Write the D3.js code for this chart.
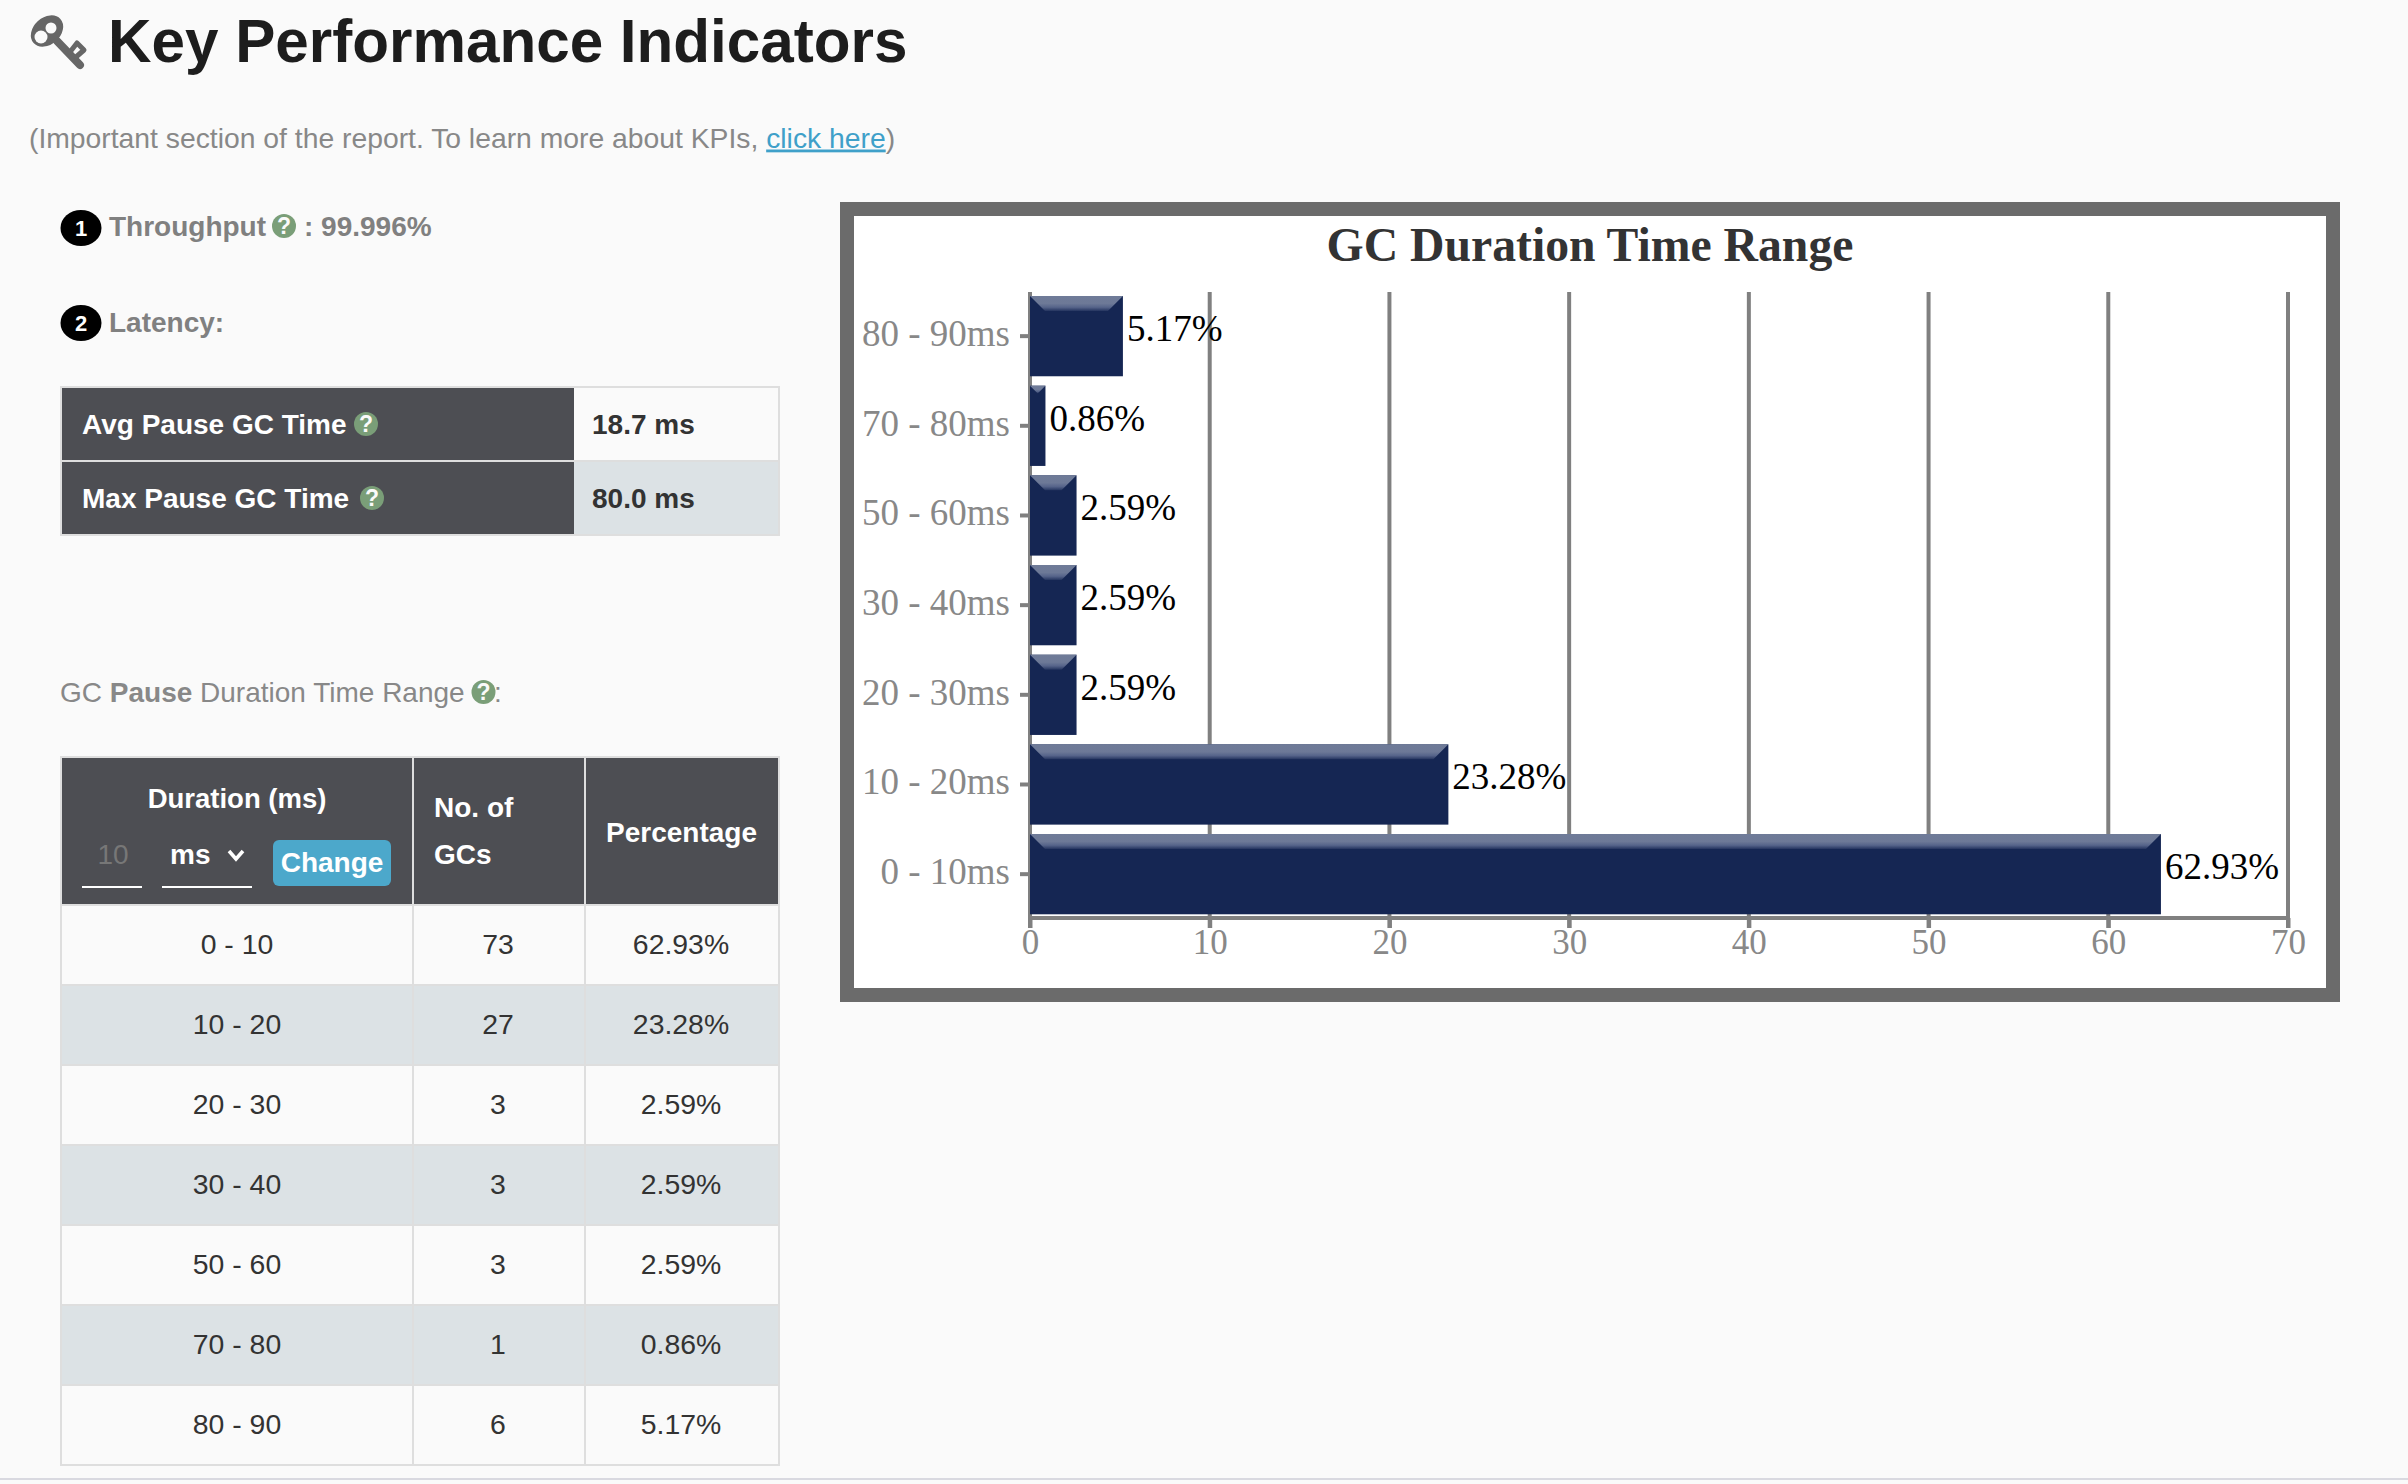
<!DOCTYPE html>
<html><head><meta charset="utf-8">
<script src="https://cdn.jsdelivr.net/npm/d3@7"></script>
<style>
html,body{margin:0;padding:0;background:#fafafa;overflow:hidden}
svg{display:block}
</style></head><body>
<script>
const ranges = ["0 - 10","10 - 20","20 - 30","30 - 40","50 - 60","70 - 80","80 - 90"];
const gcCounts = [73,27,3,3,3,1,6];
const percentages = [62.93,23.28,2.59,2.59,2.59,0.86,5.17];
const xTicks = [0,10,20,30,40,50,60,70];
const latencyLabels = ["Avg Pause GC Time","Max Pause GC Time"];
const latencyValues = ["18.7 ms","80.0 ms"];

const sans = "'Liberation Sans',Arial,sans-serif";
const serif = "'Liberation Serif',serif";
const svg = d3.select("body").append("svg").attr("width",2408).attr("height",1484);
svg.append("rect").attr("width",2408).attr("height",1484).attr("fill","#fafafa");

function T(x,y,s,o={}){
  return svg.append("text").attr("x",x).attr("y",y).text(s)
    .attr("font-family",o.family||sans).attr("font-size",o.size||28)
    .attr("font-weight",o.weight||"normal").attr("fill",o.fill||"#333")
    .attr("text-anchor",o.anchor||"start");
}
function help(cx,cy){
  svg.append("ellipse").attr("cx",cx).attr("cy",cy).attr("rx",12).attr("ry",12).attr("fill","#7a9e78");
  T(cx,cy+8,"?",{size:23,weight:"bold",fill:"#fafafa",anchor:"middle"});
}
function badge(cy,s){
  svg.append("ellipse").attr("cx",81).attr("cy",cy).attr("rx",20.5).attr("ry",18).attr("fill","#000");
  T(81,cy+8,s,{size:22,weight:"bold",fill:"#fff",anchor:"middle"});
}

// Key icon
const keyColor="#666";
const key = svg.append("g").attr("fill","none").attr("stroke",keyColor).attr("stroke-linecap","round").attr("stroke-linejoin","round");
key.append("ellipse").attr("cx",47).attr("cy",31).attr("rx",18).attr("ry",13.5).attr("fill",keyColor).attr("stroke","none")
  .attr("transform","rotate(-42 47 31)");
key.append("circle").attr("cx",41).attr("cy",37).attr("r",6.5).attr("fill","#fafafa").attr("stroke","none");
key.append("circle").attr("cx",51).attr("cy",28).attr("r",5.5).attr("fill","#fafafa").attr("stroke","none");
key.append("line").attr("x1",57).attr("y1",41).attr("x2",80).attr("y2",65).attr("stroke-width",8);
key.append("path").attr("d",d3.line()([[70,52],[77,43],[84,50],[76,57]])).attr("stroke-width",5);

T(108,62,"Key Performance Indicators",{size:60.2,weight:"bold",fill:"#1d1d1d"});

const sub = T(29,147.5,"(Important section of the report. To learn more about KPIs, ",{size:28.3,fill:"#888"});
sub.append("tspan").attr("fill","#3fa0c9").attr("text-decoration","underline").text("click here");
sub.append("tspan").text(")");

badge(228,"1");
T(109,236,"Throughput",{weight:"bold",fill:"#808080"});
help(284,226);
T(304,236,": 99.996%",{weight:"bold",fill:"#808080"});
badge(323,"2");
T(109,332,"Latency:",{weight:"bold",fill:"#808080"});

// KPI table
const grid="#dedede", dark="#4d4e53", light="#fafafa", alt="#dce2e5";
svg.append("rect").attr("x",60).attr("y",386).attr("width",720).attr("height",150).attr("fill",grid);
latencyLabels.forEach((l,i)=>{
  const y=388+i*74;
  svg.append("rect").attr("x",62).attr("y",y).attr("width",512).attr("height",72).attr("fill",dark);
  svg.append("rect").attr("x",574).attr("y",y).attr("width",204).attr("height",72).attr("fill",i? alt:light);
  T(82,434+i*74,l,{size:28,weight:"bold",fill:"#fff"});
  help(i?372:366,424+i*74);
  T(592,434+i*74,latencyValues[i],{size:28,weight:"bold"});
});

// Range table heading
const h = T(60,702,"GC ",{size:28,fill:"#888"});
h.append("tspan").attr("font-weight","bold").text("Pause");
h.append("tspan").text(" Duration Time Range");
help(483.5,692);
T(494,702,":",{size:28,fill:"#888"});

// Range table
const colX=[62,414,586], colW=[350,170,192], rowH=80, rowTop=906;
const rowY = i=>rowTop+i*rowH;
svg.append("rect").attr("x",60).attr("y",756).attr("width",720).attr("height",710).attr("fill",grid);
colX.forEach((x,i)=>svg.append("rect").attr("x",x).attr("y",758).attr("width",colW[i]).attr("height",146).attr("fill",dark));
T(237,808,"Duration (ms)",{size:27.5,weight:"bold",fill:"#fff",anchor:"middle"});
T(113,864,"10",{size:28,fill:"#777",anchor:"middle"});
svg.append("rect").attr("x",82).attr("y",886).attr("width",60).attr("height",2).attr("fill","#fff");
T(170,864,"ms",{size:28,weight:"bold",fill:"#fff"});
svg.append("path").attr("d",d3.line()([[229,851],[236,859],[243,851]])).attr("fill","none").attr("stroke","#fff").attr("stroke-width",3.5);
svg.append("rect").attr("x",162).attr("y",886).attr("width",90).attr("height",2).attr("fill","#fff");
svg.append("rect").attr("x",273).attr("y",840).attr("width",118).attr("height",46).attr("rx",6).attr("fill","#4ca8cb");
T(332,872,"Change",{size:28,weight:"bold",fill:"#fff",anchor:"middle"});
T(434,817,"No. of",{size:28,weight:"bold",fill:"#fff"});
T(434,864,"GCs",{size:28,weight:"bold",fill:"#fff"});
T(606,842,"Percentage",{size:28,weight:"bold",fill:"#fff"});

ranges.forEach((r,i)=>{
  colX.forEach((x,c)=>svg.append("rect").attr("x",x).attr("y",rowY(i)).attr("width",colW[c]).attr("height",rowH-2).attr("fill",i%2?alt:light));
  const b=rowY(i)+48;
  T(237,b,r,{anchor:"middle",size:28.4});
  T(498,b,gcCounts[i],{anchor:"middle",size:28.4});
  T(681,b,percentages[i].toFixed(2)+"%",{anchor:"middle",size:28.4});
});

// page bottom rule
svg.append("rect").attr("y",1478).attr("width",2408).attr("height",2).attr("fill","#d9d9e0");

// Chart frame
svg.append("rect").attr("x",847).attr("y",209).attr("width",1486).attr("height",786)
  .attr("fill","#fff").attr("stroke","#6b6b6b").attr("stroke-width",14);
T(1590,261,"GC Duration Time Range",{family:serif,size:47.7,weight:"bold",fill:"#333",anchor:"middle"});

const defs = svg.append("defs");
const g = defs.append("linearGradient").attr("id","bevel").attr("x1",0).attr("y1",0).attr("x2",0).attr("y2",1);
[[0,"#6f7b98"],[0.5,"#6d7997"],[0.75,"#56648a"],[1,"#24345f"]].forEach(([o,c])=>g.append("stop").attr("offset",o).attr("stop-color",c));

const x = d3.scaleLinear().domain([0,70]).range([1030,2288]);
const y = d3.scaleBand().domain(ranges.slice().reverse()).range([291.3,919]).paddingInner(0.105).paddingOuter(0.0525);
const axisColor="#808080";

// Grid lines and x axis
const gridG = svg.append("g");
gridG.selectAll("line").data(xTicks).join("line")
  .attr("x1",d=>x(d)).attr("x2",d=>x(d)).attr("y1",292).attr("y2",928)
  .attr("stroke",axisColor).attr("stroke-width",4);
const xAxis = svg.append("g").attr("transform","translate(0,918)")
  .call(d3.axisBottom(x).tickValues(xTicks).tickSize(10).tickPadding(10).tickFormat(d3.format("d")));
xAxis.select(".domain").attr("stroke",axisColor).attr("stroke-width",4).attr("d",`M${x(0)},0H${x(70)}`);
xAxis.selectAll("line").attr("stroke",axisColor).attr("stroke-width",4);
xAxis.selectAll("text").attr("font-family",serif).attr("font-size",35).attr("fill","#888").attr("dy",null).attr("y",36);

const yAxis = svg.append("g").attr("transform",`translate(${x(0)},0)`)
  .call(d3.axisLeft(y).tickSize(10).tickPadding(10).tickFormat(d=>d+"ms"));
yAxis.select(".domain").remove();
yAxis.selectAll("line").attr("stroke",axisColor).attr("stroke-width",4);
yAxis.selectAll("text").attr("font-family",serif).attr("font-size",37).attr("fill","#888").attr("dy",null).attr("y",10);

// Bars
const rows = ranges.map((r,i)=>({r,v:percentages[i]}));
const bars = svg.append("g").selectAll("g").data(rows).join("g");
bars.append("rect").attr("x",x(0)).attr("y",d=>y(d.r)).attr("width",d=>x(d.v)-x(0)).attr("height",y.bandwidth()).attr("fill","#152653");
bars.append("path").attr("fill","url(#bevel)").attr("d",d=>{
  const x0=x(0),x1=x(d.v),t=y(d.r),dp=Math.min(15,(x1-x0)/2),p=d3.path();
  p.moveTo(x0,t);p.lineTo(x1,t);p.lineTo(x1-dp,t+dp);p.lineTo(x0+dp,t+dp);p.closePath();return p.toString();
});
bars.append("text").attr("x",d=>x(d.v)+4).attr("y",d=>y(d.r)+y.bandwidth()/2+5)
  .attr("font-family",serif).attr("font-size",37).attr("fill","#000").text(d=>d.v.toFixed(2)+"%");
</script>
</body></html>
